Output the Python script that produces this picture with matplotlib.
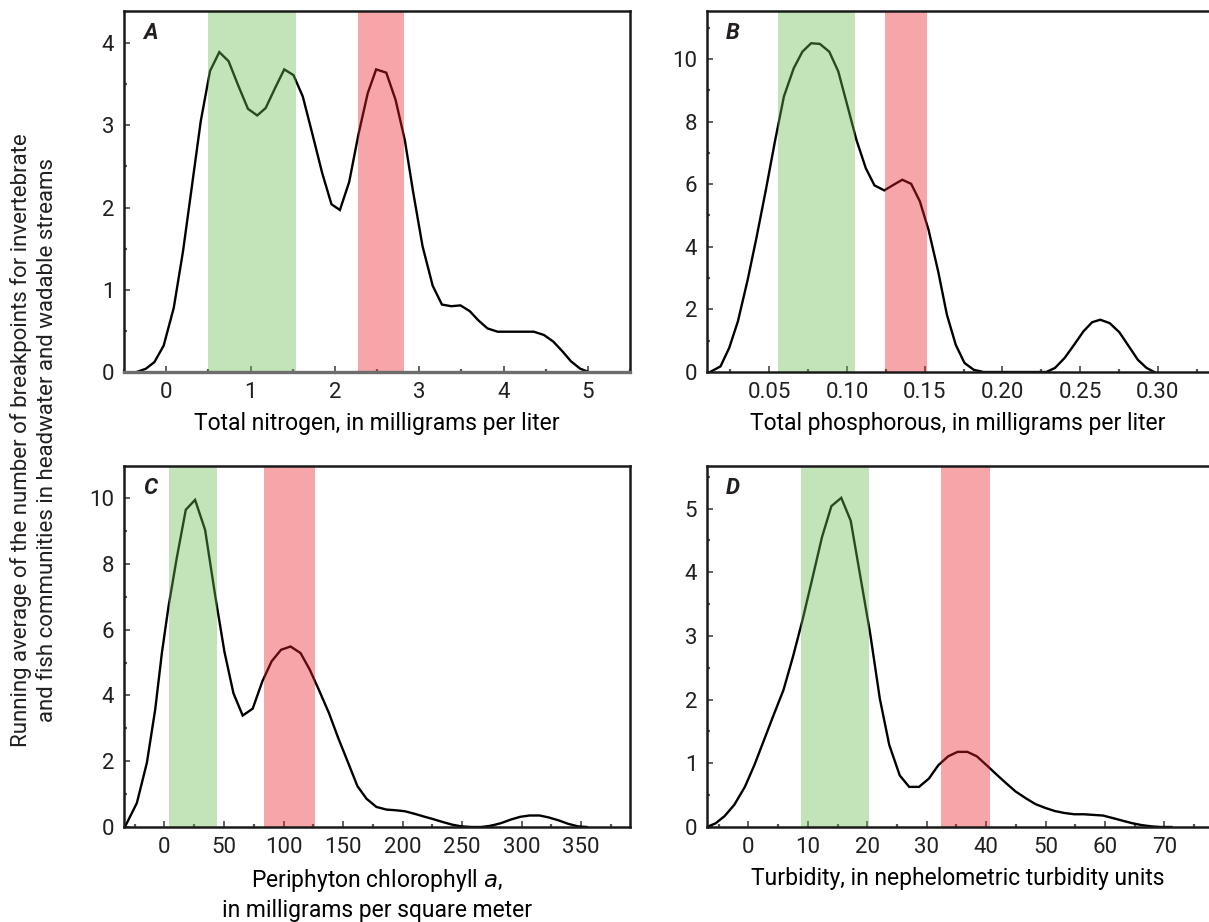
import matplotlib
matplotlib.use('Agg')
import matplotlib.pyplot as plt
import numpy as np

plt.rcParams['font.family'] = ['Roboto', 'DejaVu Sans']
plt.rcParams['text.color'] = '#231f20'

# panel A - total nitrogen
tn_x = [-0.35, -0.24, -0.14, -0.03, 0.09, 0.20, 0.30, 0.41, 0.52, 0.63, 0.74, 0.86, 0.97,
        1.08, 1.18, 1.29, 1.40, 1.51, 1.62, 1.73, 1.85, 1.96, 2.06, 2.17, 2.28, 2.39,
        2.49, 2.61, 2.72, 2.83, 2.93, 3.04, 3.16, 3.27, 3.38, 3.49, 3.60, 3.70, 3.81,
        3.93, 4.04, 4.15, 4.26, 4.36, 4.48, 4.59, 4.70, 4.80, 4.91, 5.01]
tn_y = [0.0, 0.04, 0.12, 0.32, 0.78, 1.47, 2.22, 3.05, 3.66, 3.89, 3.78, 3.47, 3.20,
        3.12, 3.21, 3.45, 3.68, 3.61, 3.35, 2.91, 2.42, 2.04, 1.97, 2.31, 2.89, 3.39,
        3.68, 3.64, 3.31, 2.82, 2.18, 1.53, 1.05, 0.82, 0.80, 0.81, 0.74, 0.63, 0.53,
        0.49, 0.49, 0.49, 0.49, 0.49, 0.45, 0.37, 0.25, 0.13, 0.04, 0.0]

# panel B - total phosphorous
tp_x = [0.0119, 0.0186, 0.0242, 0.0298, 0.0361, 0.0417, 0.0478, 0.0538, 0.0594, 0.0657,
        0.0713, 0.0769, 0.0825, 0.0886, 0.0944, 0.1004, 0.1061, 0.1121, 0.1177, 0.1240,
        0.1300, 0.1356, 0.1413, 0.1469, 0.1525, 0.1587, 0.1643, 0.1700, 0.1756, 0.1816,
        0.1879, 0.2283, 0.2339, 0.2401, 0.2462, 0.2522, 0.2578, 0.2630, 0.2691, 0.2753,
        0.2814, 0.2872, 0.2928, 0.2978]
tp_y = [0.0, 0.18, 0.77, 1.62, 2.95, 4.28, 5.82, 7.41, 8.80, 9.70,
        10.23, 10.50, 10.48, 10.23, 9.60, 8.48, 7.41, 6.51, 5.96, 5.80,
        5.98, 6.14, 6.01, 5.45, 4.54, 3.21, 1.83, 0.87, 0.29, 0.07,
        0.0, 0.0, 0.13, 0.45, 0.87, 1.30, 1.59, 1.67, 1.56, 1.27,
        0.82, 0.39, 0.13, 0.0]

# panel C - periphyton chlorophyll a
chl_x = [-33, -23.2, -14.8, -7.8, -2.2, 3.4, 10.3, 17.9, 25.7, 34.1, 42.5, 50.3, 57.9,
         65.7, 74.1, 82.2, 90.0, 97.9, 105.9, 114.3, 122.1, 129.7, 138.1, 145.9, 154.3,
         162.1, 169.7, 178.0, 186.4, 194.0, 201.8, 210.2, 217.7, 225.6, 233.9, 241.8,
         249.3, 257.7, 266.1, 274.5, 282.9, 290.4, 298.8, 306.6, 315.0, 322.8, 331.2,
         338.8, 347.1, 354.7]
chl_y = [0.02, 0.73, 1.95, 3.57, 5.29, 6.71, 8.18, 9.65, 9.95, 9.04, 7.06, 5.34, 4.07,
         3.39, 3.60, 4.43, 5.04, 5.39, 5.49, 5.29, 4.78, 4.17, 3.47, 2.71, 1.95,
         1.24, 0.86, 0.61, 0.53, 0.51, 0.48, 0.40, 0.32, 0.24, 0.15, 0.07,
         0.02, 0.0, 0.0, 0.04, 0.12, 0.22, 0.31, 0.35, 0.35, 0.29, 0.20,
         0.10, 0.02, 0.0]

# panel D - turbidity
tu_x = [-6.96, -5.48, -4.01, -2.36, -0.59, 1.00, 2.65, 4.25, 5.90, 7.49, 9.08, 10.73,
        12.38, 13.97, 15.63, 17.22, 18.81, 20.46, 22.11, 23.70, 25.47, 27.06, 28.71,
        30.37, 31.96, 33.61, 35.20, 36.85, 38.44, 40.09, 41.69, 43.34, 44.93, 46.70,
        48.29, 49.94, 51.59, 53.18, 54.83, 56.43, 58.08, 59.67, 61.32, 62.91, 64.56,
        66.16, 67.81, 69.40, 71.17]
tu_y = [0.0, 0.06, 0.17, 0.35, 0.63, 0.97, 1.37, 1.76, 2.15, 2.67, 3.24, 3.89,
        4.55, 5.04, 5.17, 4.81, 3.95, 3.06, 2.02, 1.29, 0.81, 0.63, 0.63,
        0.76, 0.97, 1.11, 1.18, 1.18, 1.11, 0.97, 0.83, 0.69, 0.56, 0.45,
        0.36, 0.30, 0.25, 0.22, 0.20, 0.20, 0.19, 0.18, 0.14, 0.10, 0.06,
        0.03, 0.01, 0.0, 0.0]

# shaded ranges (green, red)
tn_bands = [(0.50, 1.54), (2.27, 2.82)]
tp_bands = [(0.0555, 0.105), (0.1245, 0.1515)]
chl_bands = [(3.9, 43.9), (83.6, 126.3)]
tu_bands = [(8.84, 20.34), (32.4, 40.7)]

tn_ticks = [0, 1, 2, 3, 4, 5]
tp_ticks = [0.05, 0.10, 0.15, 0.20, 0.25, 0.30]
tp_labels = ['0.05', '0.10', '0.15', '0.20', '0.25', '0.30']
chl_ticks = [0, 50, 100, 150, 200, 250, 300, 350]
tu_ticks = [0, 10, 20, 30, 40, 50, 60, 70]

green = '#69b950'
red = '#e91e26'

W, H = 1209, 922
fig = plt.figure(figsize=(W / 100, H / 100), dpi=100)


def px_axes(l, r, t, b):
    return fig.add_axes([l / W, 1 - b / H, (r - l) / W, (b - t) / H])


def setup(ax, x, y, bands, xlim, ylim, xt, xlabels, xminor, yt, yminor, letter, xlabel,
          right=True, gray_bottom=False):
    ax.plot(x, y, color='black', lw=1.7, zorder=2, solid_joinstyle='miter')
    ax.axvspan(bands[0][0], bands[0][1], color=green, alpha=0.4, lw=0, zorder=2.2)
    ax.axvspan(bands[1][0], bands[1][1], color=red, alpha=0.4, lw=0, zorder=2.2)
    ax.set_xlim(xlim)
    ax.set_ylim(ylim)
    ax.set_xticks(xt)
    ax.set_xticklabels(xlabels)
    ax.set_xticks(xminor, minor=True)
    ax.set_yticks(yt)
    ax.set_yticks(yminor, minor=True)
    ax.tick_params(which='major', direction='in', length=4, width=1.3, color='#555555',
                   labelsize=16, labelcolor='#231f20', pad=7)
    ax.tick_params(which='minor', direction='in', length=2, width=1.6, color='#555555')
    for s in ['left', 'top', 'right', 'bottom']:
        ax.spines[s].set_linewidth(1.8)
        ax.spines[s].set_color('#1a1a1a')
    if not right:
        ax.spines['right'].set_visible(False)
    if gray_bottom:
        ax.spines['bottom'].set_color('#6d6d6d')
        ax.spines['bottom'].set_linewidth(2.4)
    ax.set_xlabel(xlabel, fontsize=16.5, labelpad=7, linespacing=1.25)
    ax.text(0.052, 0.94, letter, transform=ax.transAxes, fontsize=16, fontweight='bold',
            fontstyle='italic', ha='center', va='center')


axA = px_axes(124, 630, 11, 372)
setup(axA, tn_x, tn_y, tn_bands, (-0.455, 5.50), (0, 4.39), tn_ticks,
      [str(t) for t in tn_ticks], np.arange(-0.5, 5.6, 0.5), [0, 1, 2, 3, 4],
      np.arange(0.5, 4.4, 1.0), 'A', 'Total nitrogen, in milligrams per liter',
      gray_bottom=True)

axB = px_axes(707, 1209, 11, 372)
setup(axB, tp_x, tp_y, tp_bands, (0.0099, 0.333), (0, 11.53), tp_ticks, tp_labels,
      np.arange(0.025, 0.34, 0.05), [0, 2, 4, 6, 8, 10], np.arange(1, 12, 2), 'B',
      'Total phosphorous, in milligrams per liter', right=False)

axC = px_axes(124, 630, 466, 827)
setup(axC, chl_x, chl_y, chl_bands, (-34, 391), (0, 10.98), chl_ticks,
      [str(t) for t in chl_ticks], np.arange(-25, 391, 50), [0, 2, 4, 6, 8, 10],
      np.arange(1, 11, 2), 'C',
      'Periphyton chlorophyll $\\it{a}$,\nin milligrams per square meter')

axD = px_axes(707, 1209, 466, 827)
setup(axD, tu_x, tu_y, tu_bands, (-6.96, 77.5), (0, 5.67), tu_ticks,
      [str(t) for t in tu_ticks], np.arange(-5, 78, 10), [0, 1, 2, 3, 4, 5],
      np.arange(0.5, 5.6, 1.0), 'D',
      'Turbidity, in nephelometric turbidity units', right=False)

fig.text(34 / W, 1 - 440 / H,
         'Running average of the number of breakpoints for invertebrate\n'
         'and fish communities in headwater and wadable streams',
         rotation=90, ha='center', va='center', multialignment='center', fontsize=16,
         linespacing=1.3)

fig.savefig('out.png', dpi=100)
